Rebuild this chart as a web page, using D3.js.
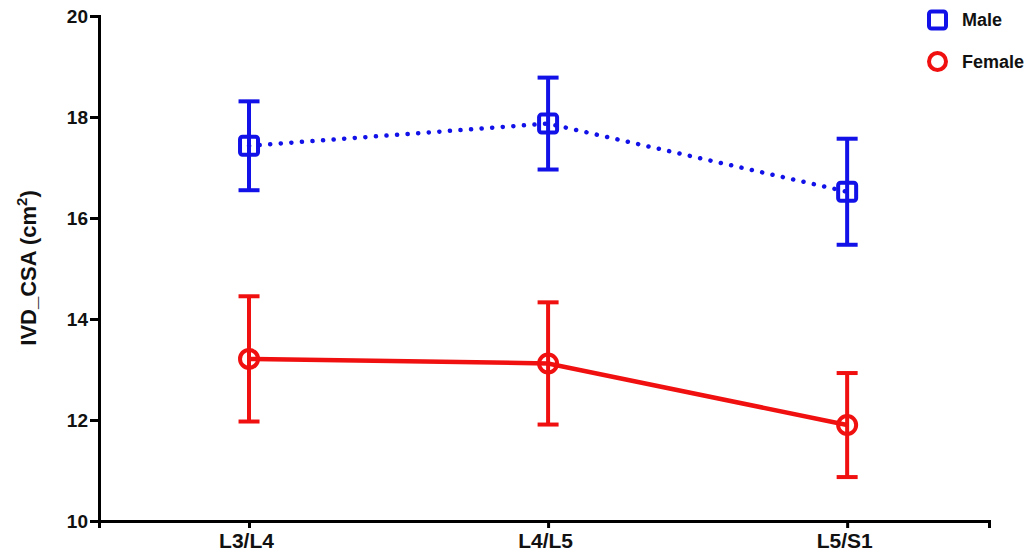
<!DOCTYPE html>
<html>
<head>
<meta charset="utf-8">
<script src="https://cdn.jsdelivr.net/npm/d3@7"></script>
<style>
  html, body { margin: 0; padding: 0; background: #fff; }
  svg { display: block; }
  text { font-family: "Liberation Sans", Arial, sans-serif; font-weight: bold; fill: #111; }
</style>
</head>
<body>
<svg id="chart" width="1031" height="556"></svg>
<script>
// Disc levels on the x axis
const levels = ["L3/L4", "L4/L5", "L5/S1"];

// Mean IVD cross-sectional area and standard deviation by sex
const maleMean = [17.43, 17.87, 16.52];
const maleSD = [0.88, 0.91, 1.05];
const femaleMean = [13.21, 13.12, 11.90];
const femaleSD = [1.24, 1.21, 1.03];

const yTicks = [10, 12, 14, 16, 18, 20];

const svg = d3.select("#chart");

const x = d3.scalePoint()
  .domain(levels)
  .range([99, 989])
  .padding(0.488)
  .align(0.514);

const y = d3.scaleLinear().domain([10, 20]).range([521, 16]);

// Axes
const xAxis = svg.append("g")
  .attr("transform", "translate(0,521)")
  .call(d3.axisBottom(x).tickSizeOuter(0).tickSize(7).tickPadding(5));
xAxis.select(".domain").attr("stroke", "#000").attr("stroke-width", 3);
xAxis.selectAll(".tick line").attr("stroke", "#000").attr("stroke-width", 3);
xAxis.selectAll(".tick text").attr("font-size", 21).attr("dy", "0.72em").attr("dx", -3).style("fill", "#111");

const yAxis = svg.append("g")
  .attr("transform", "translate(99,0)")
  .call(d3.axisLeft(y).tickValues(yTicks).tickSizeOuter(0).tickSize(9).tickPadding(2));
yAxis.select(".domain").attr("stroke", "#000").attr("stroke-width", 3);
yAxis.selectAll(".tick line").attr("stroke", "#000").attr("stroke-width", 3);
yAxis.selectAll(".tick text").attr("font-size", 19).style("fill", "#111");

// Y axis title
const yTitle = svg.append("text")
  .attr("transform", "translate(36,268) rotate(-90)")
  .attr("text-anchor", "middle")
  .attr("font-size", 22);
yTitle.append("tspan").text("IVD_CSA (cm");
yTitle.append("tspan").attr("font-size", 15).attr("dy", -9).text("2");
yTitle.append("tspan").attr("dy", 9).text(")");

const series = [
  { name: "Male", mean: maleMean, sd: maleSD, color: "#1212e8", dotted: true, shape: "square" },
  { name: "Female", mean: femaleMean, sd: femaleSD, color: "#f01010", dotted: false, shape: "circle" }
];

const line = d3.line().x((d, i) => x(levels[i])).y(d => y(d));

series.forEach(s => {
  const g = svg.append("g");
  // connecting line
  g.append("path")
    .attr("d", line(s.mean))
    .attr("fill", "none")
    .attr("stroke", s.color)
    .attr("stroke-width", 4.5)
    .attr("stroke-linecap", s.dotted ? "round" : "butt")
    .attr("stroke-dasharray", s.dotted ? "0.1 10.5" : null);

  // error bars
  s.mean.forEach((m, i) => {
    const cx = x(levels[i]);
    const top = y(m + s.sd[i]);
    const bot = y(m - s.sd[i]);
    g.append("line").attr("x1", cx).attr("x2", cx).attr("y1", top).attr("y2", bot)
      .attr("stroke", s.color).attr("stroke-width", 4);
    [top, bot].forEach(yy => {
      g.append("line").attr("x1", cx - 10.5).attr("x2", cx + 10.5).attr("y1", yy).attr("y2", yy)
        .attr("stroke", s.color).attr("stroke-width", 4);
    });
  });

  // markers
  s.mean.forEach((m, i) => {
    const cx = x(levels[i]);
    const cy = y(m);
    if (s.shape === "square") {
      g.append("rect").attr("x", cx - 9).attr("y", cy - 9).attr("width", 18).attr("height", 18)
        .attr("rx", 2.5).attr("fill", "none").attr("stroke", s.color).attr("stroke-width", 4);
    } else {
      g.append("circle").attr("cx", cx).attr("cy", cy).attr("r", 9)
        .attr("fill", "none").attr("stroke", s.color).attr("stroke-width", 4);
    }
  });
});

// Legend
const legend = svg.append("g");
series.forEach((s, i) => {
  const ly = 20 + i * 41.5;
  if (s.shape === "square") {
    legend.append("rect").attr("x", 937.5 - 8.5).attr("y", ly - 8.5).attr("width", 17).attr("height", 17)
      .attr("rx", 2.5).attr("fill", "none").attr("stroke", s.color).attr("stroke-width", 4);
  } else {
    legend.append("circle").attr("cx", 937.5).attr("cy", ly).attr("r", 8.5)
      .attr("fill", "none").attr("stroke", s.color).attr("stroke-width", 4);
  }
  legend.append("text").attr("x", 962).attr("y", ly).attr("dy", "0.36em")
    .attr("font-size", 18).text(s.name);
});
</script>
</body>
</html>
